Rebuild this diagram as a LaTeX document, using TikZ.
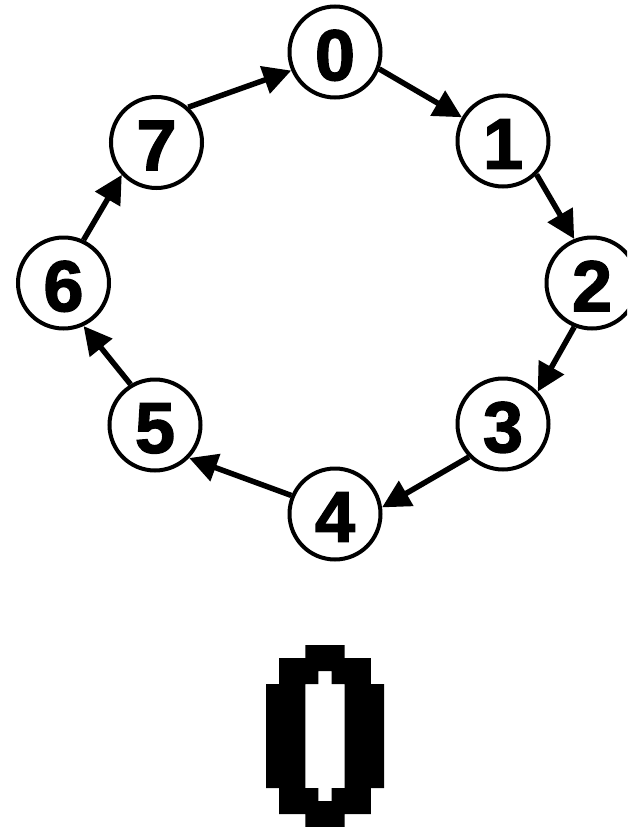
\documentclass[tikz,border=0pt]{standalone}
\usepackage{fontspec}
\setmainfont{Liberation Sans}
\newfontfamily\digitfont{Liberation Sans Bold}[FakeBold=2]
\usetikzlibrary{arrows.meta}
\newcommand\dgt[1]{\raisebox{-3pt}[\height][0pt]{#1}}
\tikzset{
  vtx/.style={circle, draw=black, line width=4pt, minimum size=91pt, inner sep=0pt,
    font=\fontsize{72}{72}\selectfont\digitfont},
  arr/.style={line width=5.5pt, -{Triangle[length=28pt,width=28pt]}},
  pix/.style={fill=black}
}
\begin{document}
\begin{tikzpicture}[x=1pt,y=-1pt]
\useasboundingbox (0,0) rectangle (627,827);
\clip (0,0) rectangle (627,827);
\node[vtx] (n0) at (335,52) {\dgt{0}};
\node[vtx] (n1) at (503,141) {\dgt{1}};
\node[vtx] (n2) at (592,283) {\dgt{2}};
\node[vtx] (n3) at (503,424) {\dgt{3}};
\node[vtx] (n4) at (335,514) {\dgt{4}};
\node[vtx] (n5) at (155,425) {\dgt{5}};
\node[vtx] (n6) at (63.5,283) {\dgt{6}};
\node[vtx] (n7) at (156.5,142.5) {\dgt{7}};
\draw[arr] (n0.-21.6) -- (n1.150);
\draw[arr] (n1.-45) -- (n2.112);
\draw[arr] (n2.-112.7) -- (n3.43.8);
\draw[arr] (n3.-136.7) -- (n4.8.9);
\draw[arr] (n4.157.9) -- (n5.-44);
\draw[arr] (n5.121.8) -- (n6.-65.6);
\draw[arr] (n6.65.9) -- (n7.-137);
\draw[arr] (n7.48.7) -- (n0.203.9);
% pixel-art zero
\def\bx{13.111}\def\by{13}
\fill[pix]
  ({266+3*\bx},{645+0*\by}) rectangle ({266+6*\bx},{645+1*\by})
  ({266+1*\bx},{645+1*\by}) rectangle ({266+8*\bx},{645+2*\by})
  ({266+1*\bx},{645+2*\by}) rectangle ({266+4*\bx},{645+3*\by})
  ({266+5*\bx},{645+2*\by}) rectangle ({266+8*\bx},{645+3*\by})
  ({266+0*\bx},{645+3*\by}) rectangle ({266+3*\bx},{645+11*\by})
  ({266+6*\bx},{645+3*\by}) rectangle ({266+9*\bx},{645+11*\by})
  ({266+1*\bx},{645+11*\by}) rectangle ({266+4*\bx},{645+12*\by})
  ({266+5*\bx},{645+11*\by}) rectangle ({266+8*\bx},{645+12*\by})
  ({266+1*\bx},{645+12*\by}) rectangle ({266+8*\bx},{645+13*\by})
  ({266+3*\bx},{645+13*\by}) rectangle ({266+6*\bx},{645+14*\by});
\end{tikzpicture}
\end{document}
